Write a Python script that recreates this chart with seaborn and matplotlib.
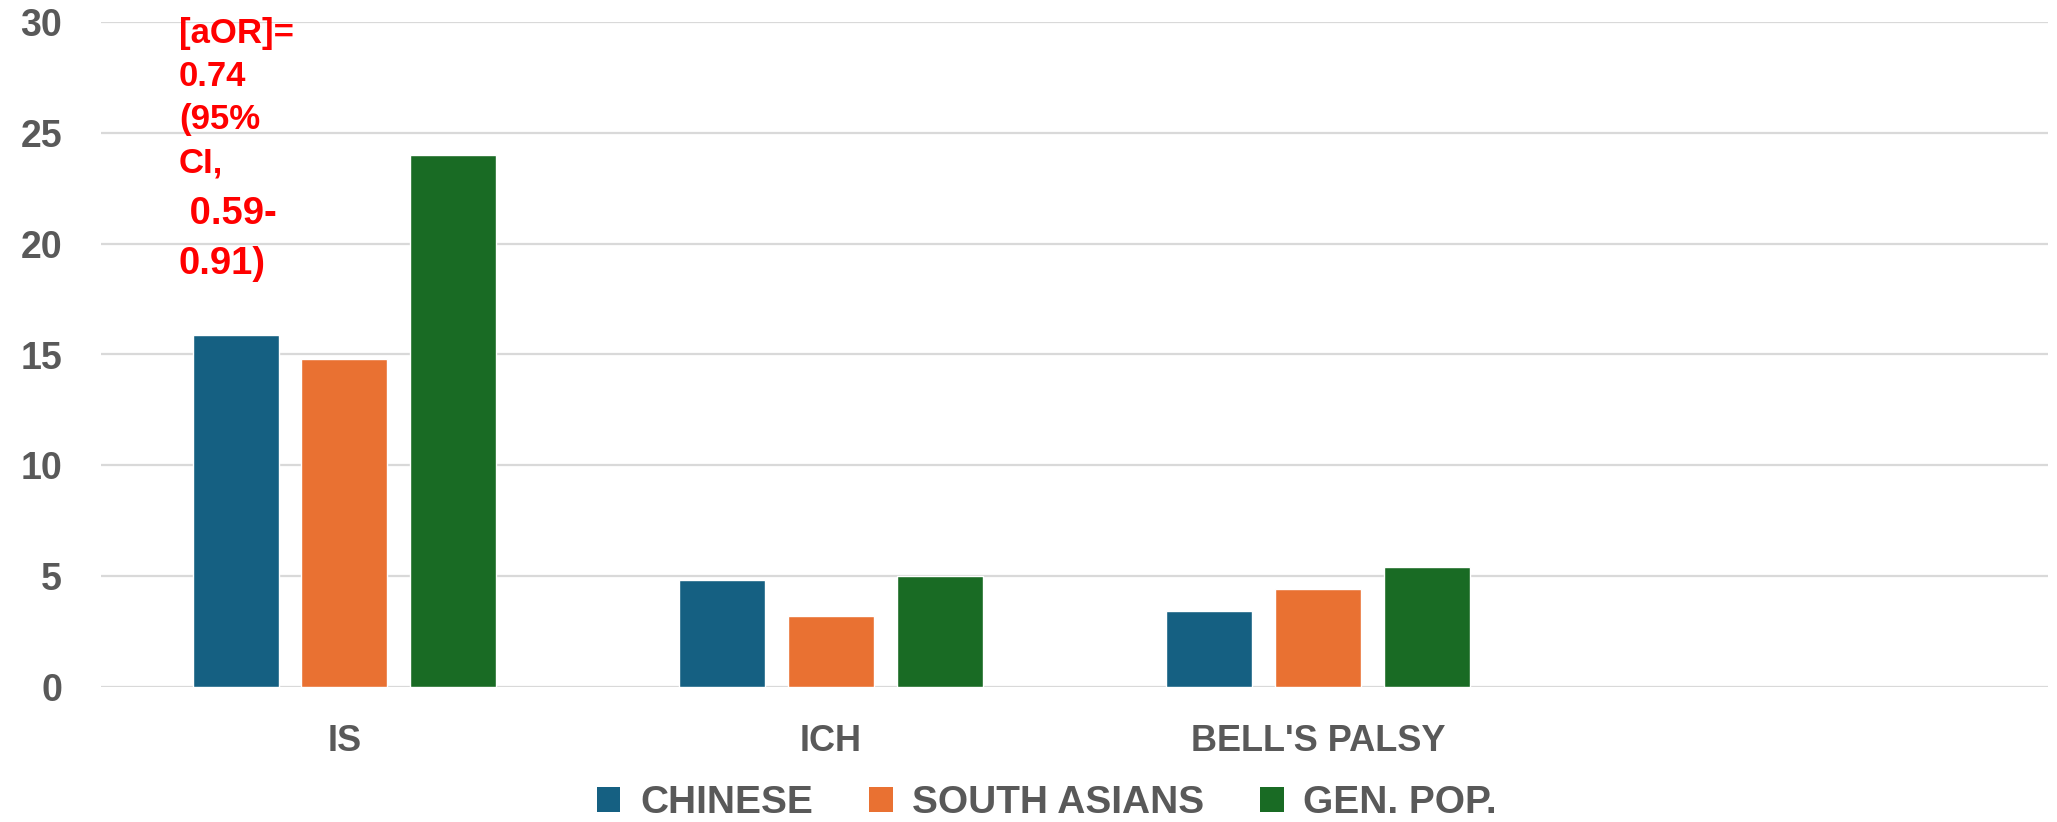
import matplotlib
matplotlib.use("Agg")
import matplotlib.pyplot as plt
from matplotlib.patches import Patch
import seaborn as sns
import pandas as pd

# Categories (the last slot is an empty category on the axis)
categories = ["IS", "ICH", "BELL'S PALSY", ""]
groups = ["CHINESE", "SOUTH ASIANS", "GEN. POP."]
chinese = [15.9, 4.8, 3.4]
south_asians = [14.8, 3.2, 4.4]
gen_pop = [24.0, 5.0, 5.4]
yticks = [0, 5, 10, 15, 20, 25, 30]

colors = {"CHINESE": "#156082", "SOUTH ASIANS": "#E97132", "GEN. POP.": "#196B24"}
note_lines = ["[aOR]=", "0.74", "(95%", "CI,", " 0.59-", "0.91)"]

rows = []
for g, vals in zip(groups, [chinese, south_asians, gen_pop]):
    for c, v in zip(categories[:3], vals):
        rows.append({"category": c, "group": g, "value": v})
df = pd.DataFrame(rows)

sns.set_theme(style="white")
plt.rcParams["font.family"] = ["Liberation Sans", "DejaVu Sans"]

W, H, DPI = 2057, 822, 100
fig = plt.figure(figsize=(W / DPI, H / DPI), dpi=DPI)
ax_left, ax_right, ax_top, ax_bot = 101, 2048, 22.3, 686.7
ax = fig.add_axes([ax_left / W, 1 - ax_bot / H, (ax_right - ax_left) / W, (ax_bot - ax_top) / H])

sns.barplot(data=df, x="category", y="value", hue="group", order=categories,
            hue_order=groups, palette=colors, width=0.67, gap=0.21,
            saturation=1, ax=ax, legend=False, errorbar=None)

ax.set_ylim(0, 30)
ax.set_xlim(-0.5, len(categories) - 0.5)
ax.set_yticks(yticks)
ax.set_yticklabels([str(t) for t in yticks])
ax.yaxis.grid(True, color="#D9D9D9", linewidth=1.6)
ax.set_axisbelow(True)
for s in ax.spines.values():
    s.set_visible(False)
ax.set_xlabel("")
ax.set_ylabel("")
ax.tick_params(axis="y", length=0, pad=28, labelsize=27, labelcolor="#595959")
ax.tick_params(axis="x", length=0, pad=27, labelsize=26, labelcolor="#595959")
for lab in ax.get_yticklabels() + ax.get_xticklabels():
    lab.set_fontweight("bold")

handles = [Patch(facecolor=colors[g], edgecolor="none", label=g) for g in groups]
leg = fig.legend(handles=handles, loc="center", bbox_to_anchor=(1047 / W, 1 - 803 / H),
                 ncol=3, frameon=False, handlelength=0.6, handleheight=0.6,
                 handletextpad=0.5, columnspacing=1.45,
                 prop={"size": 28, "weight": "bold"})
for t in leg.get_texts():
    t.set_color("#595959")

# Red odds-ratio note above the IS group
baselines = [43, 86, 129, 172, 224, 274]
sizes = [25, 25, 25, 25, 27.5, 27.5]
for line, b, sz in zip(note_lines, baselines, sizes):
    fig.text(179 / W, 1 - b / H, line, color="#FF0000", fontsize=sz,
             fontweight="bold", ha="left", va="baseline")

fig.savefig("out.png", dpi=DPI)
